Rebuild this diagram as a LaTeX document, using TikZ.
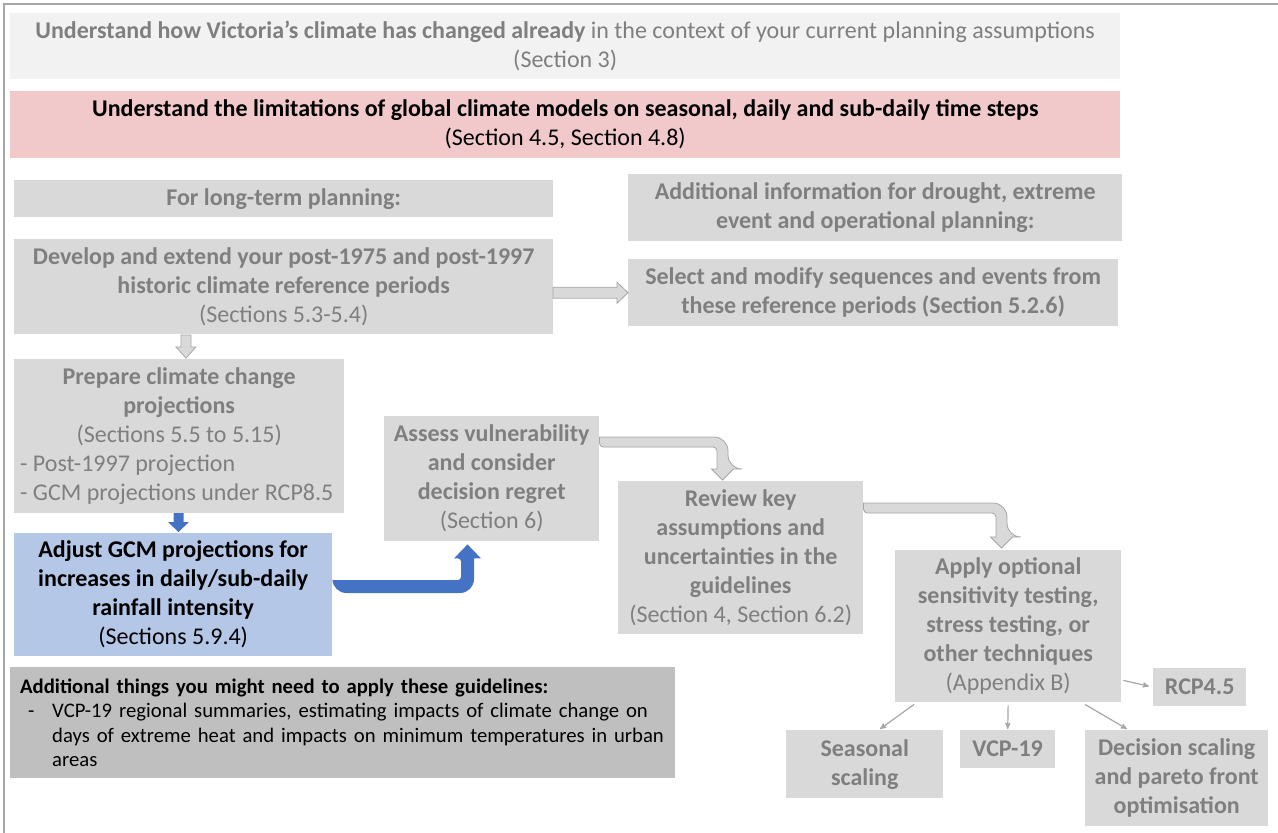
\documentclass[tikz,border=0pt]{standalone}
\usepackage{fontspec}
\setmainfont{Carlito}
\usetikzlibrary{arrows,calc}

\definecolor{boxgray}{HTML}{D9D9D9}
\definecolor{palegray}{HTML}{F2F2F2}
\definecolor{txtgray}{HTML}{7F7F7F}
\definecolor{pinkbox}{HTML}{F1C9CB}
\definecolor{bluebox}{HTML}{B4C7E7}
\definecolor{bluefill}{HTML}{4472C4}
\definecolor{darkbox}{HTML}{BFBFBF}
\definecolor{edgegray}{HTML}{A6A6A6}

\begin{document}
\begin{tikzpicture}[x=1pt,y=-1pt,
    panel/.style={anchor=north west,fill=boxgray,text=txtgray,inner sep=0pt,align=center,
                  font=\fontsize{24}{29}\selectfont\bfseries},
    link/.style={->,>=stealth',draw=edgegray,line width=1.2pt},
    hollow/.style={fill=boxgray,draw=edgegray,line width=0.8pt},
    bluearrow/.style={fill=bluefill}]
  \useasboundingbox (0,0) rectangle (1278,833);
  \draw[edgegray,line width=1.5pt] (4,833) -- (4,4) -- (1278,4);

  \node[panel,fill=palegray,minimum width=1110pt,minimum height=66pt] (past) at (10,13)
    {Understand how Victoria’s climate has changed already {\mdseries in the context of your current planning assumptions}\\{\mdseries(Section 3)}};
  \node[panel,fill=pinkbox,text=black,minimum width=1110pt,minimum height=67pt] (limits) at (10,91)
    {Understand the limitations of global climate models on seasonal, daily and sub-daily time steps\\{\mdseries(Section 4.5, Section 4.8)}};

  \node[panel,minimum width=539pt,minimum height=37pt] (longterm) at (14,180) {For long-term planning:};
  \node[panel,minimum width=494pt,minimum height=67pt] (addinfo) at (628,174)
    {Additional information for drought, extreme\\event and operational planning:};
  \node[panel,minimum width=539pt,minimum height=95pt] (develop) at (14,239)
    {Develop and extend your post-1975 and post-1997\\historic climate reference periods\\{\mdseries(Sections 5.3-5.4)}};
  \node[panel,minimum width=490pt,minimum height=67pt] (select) at (628,259)
    {Select and modify sequences and events from\\these reference periods (Section 5.2.6)};

  \node[panel,align=left,minimum width=330pt,minimum height=154pt] (prepare) at (14,359)
    {\makebox[318pt]{Prepare climate change}\\\makebox[318pt]{projections}\\
     \makebox[318pt]{\mdseries(Sections 5.5 to 5.15)}\\{\mdseries- Post-1997 projection}\\
     {\mdseries- GCM projections under RCP8.5}};
  \node[panel,fill=bluebox,text=black,minimum width=318pt,minimum height=123pt] (adjust) at (14,533)
    {Adjust GCM projections for\\increases in daily/sub-daily\\rainfall intensity\\{\mdseries(Sections 5.9.4)}};
  \node[panel,minimum width=215pt,minimum height=125pt] (assess) at (384,416)
    {Assess vulnerability\\and consider\\decision regret\\{\mdseries(Section 6)}};
  \node[panel,minimum width=245pt,minimum height=153pt] (review) at (618,481)
    {Review key\\assumptions and\\uncertainties in the\\guidelines\\{\mdseries(Section 4, Section 6.2)}};
  \node[panel,minimum width=226pt,minimum height=152pt] (apply) at (895,550)
    {Apply optional\\sensitivity testing,\\stress testing, or\\other techniques\\{\mdseries(Appendix B)}};

  \node[panel,minimum width=93pt,minimum height=38pt] (rcp) at (1153,668) {RCP4.5};
  \node[panel,minimum width=157pt,minimum height=68pt] (seasonal) at (786,730) {Seasonal\\scaling};
  \node[panel,minimum width=95pt,minimum height=38pt] (vcp) at (960,730) {VCP-19};
  \node[panel,minimum width=183pt,minimum height=96pt] (decision) at (1085,730)
    {Decision scaling\\and pareto front\\optimisation};

  \node[panel,fill=darkbox,text=black,align=left,text width=645pt,inner xsep=10pt,
        minimum height=111pt,font=\fontsize{20.7}{24.5}\selectfont] (extra) at (10,667)
    {\textbf{Additional things you might need to apply these guidelines:}\\
     \hspace*{8pt}\makebox[24pt][l]{-}VCP-19 regional summaries, estimating impacts of climate change on\\
     \hspace*{32pt}days of extreme heat and impacts on minimum temperatures in urban\\
     \hspace*{32pt}areas};

  % block arrows
  \path[hollow] (select.west) -- ++(-11,-10.5) -- ++(0,5) -- ++(-64,0) -- ++(0,11) -- ++(64,0) -- ++(0,5) -- cycle;
  \path[hollow] ($(prepare.north west)+(172,-1)$) -- ++(10,-11) -- ++(-5,0) -- ++(0,-12) -- ++(-10,0)
    -- ++(0,12) -- ++(-5,0) -- cycle;
  \path[bluearrow] ($(adjust.north west)+(164.5,-1)$) -- ++(10.5,-10) -- ++(-5.5,0) -- ++(0,-9) -- ++(-10,0)
    -- ++(0,9) -- ++(-5.5,0) -- cycle;

  \coordinate (a1) at ($(assess.north east)+(0,21)$);
  \coordinate (b1) at ($(review.north west)+(104.5,-1)$);
  \path[hollow] (a1) [rounded corners=14pt] -| ($(b1)+(5.5,-11)$) [sharp corners] -- ++(5.5,0) -- (b1)
    -- ++(-11,-11) -- ++(5.5,0) [rounded corners=4pt] |- ($(a1)+(0,10)$) [sharp corners] -- cycle;
  \coordinate (a2) at ($(review.north east)+(0,22)$);
  \coordinate (b2) at ($(apply.north west)+(106.5,-2)$);
  \path[hollow] (a2) [rounded corners=14pt] -| ($(b2)+(5.5,-11)$) [sharp corners] -- ++(5.5,0) -- (b2)
    -- ++(-11,-11) -- ++(5.5,0) [rounded corners=4pt] |- ($(a2)+(0,10)$) [sharp corners] -- cycle;
  \coordinate (a3) at ($(adjust.north east)+(0,47)$);
  \coordinate (b3) at ($(assess.south west)+(83.5,3)$);
  \path[bluearrow] (a3) [rounded corners=3pt] -| ($(b3)+(-6.5,14)$) [sharp corners] -- ++(-7,0) -- (b3)
    -- ++(13.5,14) -- ++(-7,0) [rounded corners=14pt] |- ($(a3)+(0,13)$) [sharp corners] -- cycle;

  \draw[link] ($(apply.south west)+(19,2)$) -- ($(seasonal.north west)+(94,-1)$);
  \draw[link,shorten <=3pt,shorten >=1pt] (apply.south) -- (vcp.north);
  \draw[link] ($(apply.south west)+(190,2)$) -- ($(decision.north west)+(42,-1)$);
  \draw[link] ($(apply.south east)+(2,-22)$) -- ($(rcp.west)+(-4,-1)$);
\end{tikzpicture}
\end{document}
